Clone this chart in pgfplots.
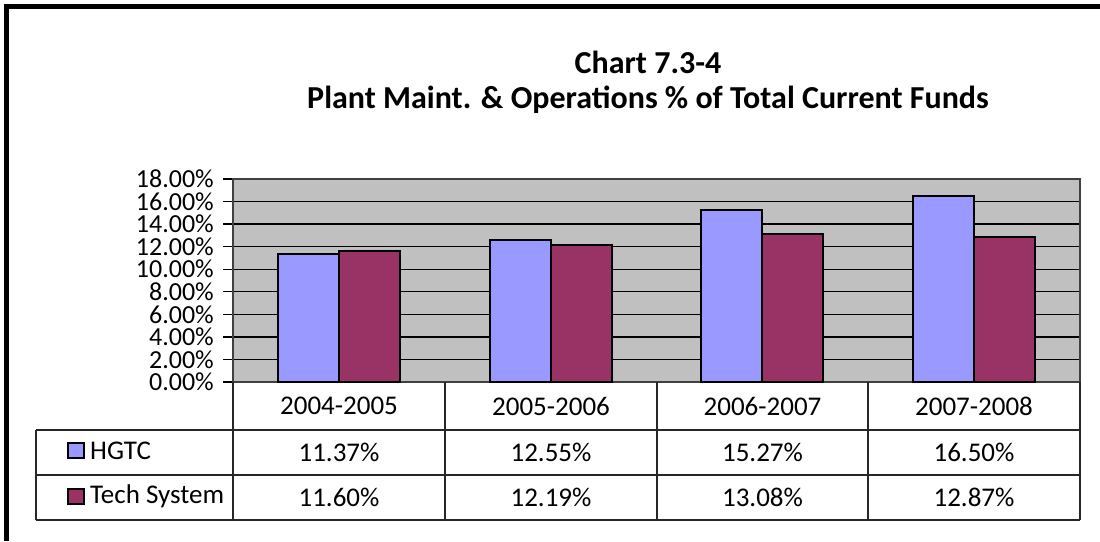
\documentclass[border=0pt]{standalone}
\usepackage{fontspec}
\setmainfont{Carlito}
\usepackage{pgfplots}
\pgfplotsset{compat=1.18}
\definecolor{hgtc}{HTML}{9999FF}
\definecolor{tech}{HTML}{993366}
\definecolor{plotbg}{HTML}{C0C0C0}
\begin{document}
\begin{tikzpicture}[x=1pt,y=1pt]
\useasboundingbox (0,0) rectangle (1100,541);
\fill[white] (0,0) rectangle (1100,541);
% frame
\draw[line width=5pt] (6.5,0) -- (6.5,534.5) -- (1100,534.5);
% title
\node[font=\fontsize{32}{38}\selectfont\bfseries] at (648,479) {Chart 7.3-4};
\node[font=\fontsize{32}{38}\selectfont\bfseries] at (648,441) {Plant Maint. \& Operations \% of Total Current Funds};
\begin{axis}[
  at={(233pt,159pt)}, anchor=south west, scale only axis,
  width=847pt, height=203pt,
  xmin=-0.5, xmax=3.5, ymin=0, ymax=18,
  ytick={0,2,...,18}, xtick=\empty, ytick pos=left,
  ymajorgrids, grid style={black, line width=1.3pt},
  axis background/.style={fill=plotbg},
  axis line style={draw=black!75, line width=1.3pt},
  tick align=outside, major tick length=10pt,
  ytick style={black, line width=1.3pt},
  y tick label style={font=\fontsize{26}{26}\selectfont, xshift=-8pt, inner sep=1pt},
  /pgf/number format/assume math mode=true,
  yticklabel={\pgfmathprintnumber[fixed,fixed zerofill,precision=2]{\tick}\%},
  ybar, bar width=61pt,
  clip=false,
]
\addplot[fill=hgtc, draw=black, line width=2pt, bar shift=-30.5pt] coordinates {(0,11.37) (1,12.55) (2,15.27) (3,16.50)};
\addplot[fill=tech, draw=black, line width=2pt, bar shift=30.5pt] coordinates {(0,11.60) (1,12.19) (2,13.08) (3,12.87)};
\end{axis}
% data table
\begin{scope}[line width=1.3pt, draw=black!85]
\draw (233,159) -- (233,21);
\draw (445,159) -- (445,21);
\draw (657,159) -- (657,21);
\draw (868,159) -- (868,21);
\draw (1080,159) -- (1080,21);
\draw (36,111) -- (1080,111);
\draw (36,66) -- (1080,66);
\draw (36,21) -- (1080,21);
\draw (36,111) -- (36,21);
\end{scope}
\begin{scope}[font=\fontsize{27}{27}\selectfont]
\node at (339,135) {2004-2005};
\node at (551,135) {2005-2006};
\node at (762.5,135) {2006-2007};
\node at (974,135) {2007-2008};
\node at (339,89) {11.37\%};
\node at (551,89) {12.55\%};
\node at (762.5,89) {15.27\%};
\node at (974,89) {16.50\%};
\node at (339,44) {11.60\%};
\node at (551,44) {12.19\%};
\node at (762.5,44) {13.08\%};
\node at (974,44) {12.87\%};
\fill[hgtc, draw=black, line width=1.8pt] (68,83) rectangle (84,98);
\node[anchor=west, inner sep=0pt] at (90,90.5) {HGTC};
\fill[tech, draw=black, line width=1.8pt] (68,37) rectangle (84,52);
\node[anchor=west, inner sep=0pt] at (90,44.5) {Tech System};
\end{scope}
\end{tikzpicture}
\end{document}
